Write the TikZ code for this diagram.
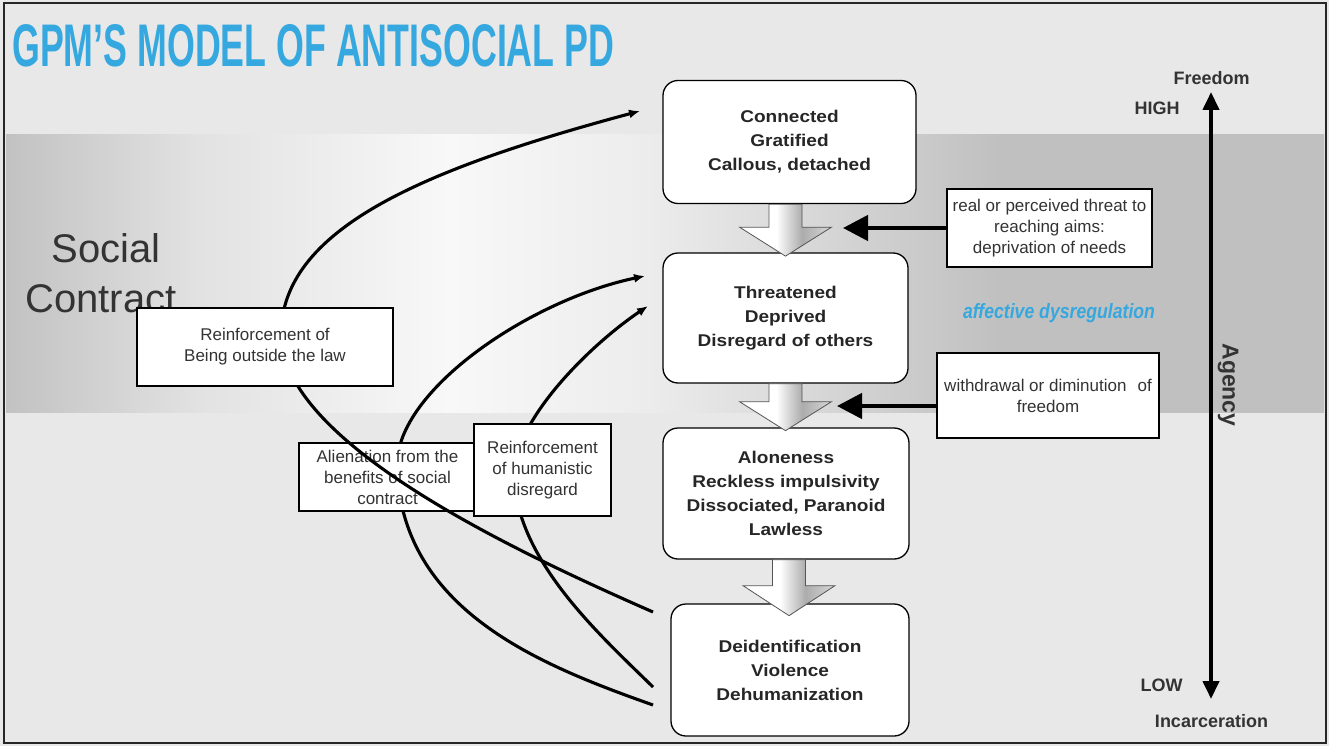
\documentclass[tikz,border=0pt]{standalone}
\usepackage{fontspec}
\usepackage{graphicx}
\setmainfont{Liberation Sans}
\newfontfamily\stagefont[FakeStretch=1.12]{Liberation Sans}
\usetikzlibrary{arrows.meta,calc}

\definecolor{bg}{HTML}{E8E8E8}
\definecolor{titleblue}{HTML}{36A8E0}
\definecolor{textdark}{HTML}{262626}
\definecolor{textgray}{HTML}{333333}
\definecolor{bandL}{HTML}{C2C2C2}
\definecolor{bandA}{HTML}{E2E2E2}
\definecolor{bandW}{HTML}{F8F8F8}
\definecolor{bandB}{HTML}{ECECEC}
\definecolor{bandR}{HTML}{C0C0C0}
\definecolor{arrowdark}{HTML}{ACACAC}
\definecolor{arrowlight}{HTML}{D8D8D8}
\definecolor{arrowedge}{HTML}{555555}

% band behind the upper stages: dark at both sides, bright left of centre
\pgfdeclarehorizontalshading{bandshade}{100bp}{%
  color(0bp)=(bandL); color(25bp)=(bandL); color(32.3bp)=(bandA);
  color(41.8bp)=(bandW); color(49.4bp)=(bandB); color(62.7bp)=(bandR);
  color(75bp)=(bandR); color(100bp)=(bandR)}
% fill of the hollow down arrows between stages
\pgfdeclarehorizontalshading{arrowshade}{100bp}{%
  color(0bp)=(white); color(25bp)=(white); color(45bp)=(white);
  color(59bp)=(arrowdark); color(75bp)=(arrowlight); color(100bp)=(arrowlight)}

\tikzset{
  stage/.style={draw=black, line width=1.3pt, fill=white, rounded corners=15pt,
    inner sep=0pt, align=center, text=textdark,
    font=\stagefont\bfseries\fontsize{17}{24}\selectfont},
  note/.style={draw=black, line width=1.2pt, fill=white, inner sep=0pt,
    align=center, text=textgray, font=\fontsize{17}{21}\selectfont},
  axislabel/.style={inner sep=0pt, text=textgray, font=\bfseries\fontsize{18}{20}\selectfont},
  curve/.style={line width=3.1pt, -{Latex[length=11pt,width=9pt]}},
  push/.style={line width=4.5pt, -{Triangle[length=25pt,width=25pt]}},
  pics/downarrow/.style n args={2}{code={
    \shade[shading=arrowshade, draw=arrowedge, line width=0.8pt]
      (-16.5,0) -- (16.5,0) -- (16.5,#1) -- (46,#1) -- (0,#2)
      -- (-46,#1) -- (-16.5,#1) -- cycle;
  }},
}

\begin{document}
\begin{tikzpicture}[x=1pt,y=-1pt]
\useasboundingbox (0,0) rectangle (1329,746);

% page background, band and frame
\fill[bg] (0,0) rectangle (1329,746);
\shade[shading=bandshade] (6,135) rectangle (1324,412);
\draw[line width=2pt, black!85] (3.5,3.5) rectangle (1325.5,742.5);

% heading
\node[anchor=base west, inner sep=0pt, text=titleblue] (title) at (12,67)
  {\resizebox{602pt}{42pt}{\bfseries GPM’S MODEL OF ANTISOCIAL PD}};

% band caption
\node[anchor=base, inner sep=0pt, text=textgray, font=\fontsize{40}{48}\selectfont]
  (social) at (106,262) {Social};
\node[anchor=base, inner sep=0pt, text=textgray, font=\fontsize{40}{48}\selectfont]
  (contract) at (101,312) {Contract};

\node[anchor=base, inner sep=0pt, text=titleblue] (affect) at (1059,318)
  {\resizebox{192pt}{15pt}{\bfseries\itshape affective dysregulation}};

% stages
\node[stage, minimum width=253pt, minimum height=123pt] (b1) at (789.5,142)
  {Connected\\Gratified\\Callous, detached};
\node[stage, minimum width=245pt, minimum height=130pt] (b2) at (785.5,318)
  {Threatened\\Deprived\\Disregard of others};
\node[stage, minimum width=246pt, minimum height=131pt] (b3) at (786,493.5)
  {Aloneness\\Reckless impulsivity\\Dissociated, Paranoid\\Lawless};
\node[stage, minimum width=238pt, minimum height=132pt] (b4) at (790,670)
  {Deidentification\\Violence\\Dehumanization};

\pic at ($(b1.south)+(-4,0)$) {downarrow={23}{52}};
\pic at (b2.south) {downarrow={18}{47}};
\pic at ($(b3.south)+(3,0)$) {downarrow={26}{56}};

% feedback loops from the last stage back to the upper stages
\coordinate (aS) at (653,612);
\coordinate (aM) at (281,335);
\coordinate (aE) at (640,111);
\coordinate (bS) at (653,705);
\coordinate (bM) at (397,465);
\coordinate (bE) at (645,276);
\coordinate (cS) at (653,687);
\coordinate (cM) at (514,475);
\coordinate (cE) at (648,306);

\draw[curve] (bS) .. controls (540,665) and (400,610) .. (bM)
  .. controls (397,390) and (530,300) .. (bE);
\draw[curve] (cS) .. controls (600,635) and (516,560) .. (cM)
  .. controls (514,420) and (590,345) .. (cE);

\node[note, minimum width=177pt, minimum height=68pt] (alien) at (387.5,477)
  {Alienation from the\\benefits of social\\contract};

\draw[curve] (aS) .. controls (500,545) and (283,440) .. (aM)
  .. controls (281,230) and (420,170) .. (aE);

\node[note, minimum width=256pt, minimum height=78pt] (reinf) at (265,347)
  {Reinforcement of\\Being outside the law};
\node[note, minimum width=137pt, minimum height=92pt] (human) at (542.5,470)
  {Reinforcement\\of humanistic\\disregard};

% external pressures
\node[note, minimum width=205pt, minimum height=78pt] (threat) at (1049.5,228)
  {real or perceived threat to\\reaching aims:\\deprivation of needs};
\node[note, minimum width=222pt, minimum height=85pt] (withdraw) at (1048,395.5)
  {withdrawal or diminution\hspace{11pt}of\\freedom};
\coordinate (t1) at (843,228);
\coordinate (t2) at (837,406);
\draw[push] (threat.west) -- (t1);
\draw[push] (withdraw.west |- t2) -- (t2);

% agency scale
\node[axislabel] (freedom) at (1211.5,78.5) {Freedom};
\node[axislabel] (high) at (1157,108.5) {HIGH};
\node[axislabel] (low) at (1161.5,685) {LOW};
\node[axislabel] (incarc) at (1211.5,721) {Incarceration};
\node[inner sep=0pt, text=textgray, rotate=-90, font=\bfseries\fontsize{23}{26}\selectfont]
  (agency) at (1228,385) {Agency};
\coordinate (axtop) at (1211,92);
\coordinate (axbot) at (1211,699);
\draw[line width=4pt, {Triangle[length=18pt,width=16pt]}-{Triangle[length=18pt,width=16pt]}]
  (axtop) -- (axbot);

\end{tikzpicture}
\end{document}
